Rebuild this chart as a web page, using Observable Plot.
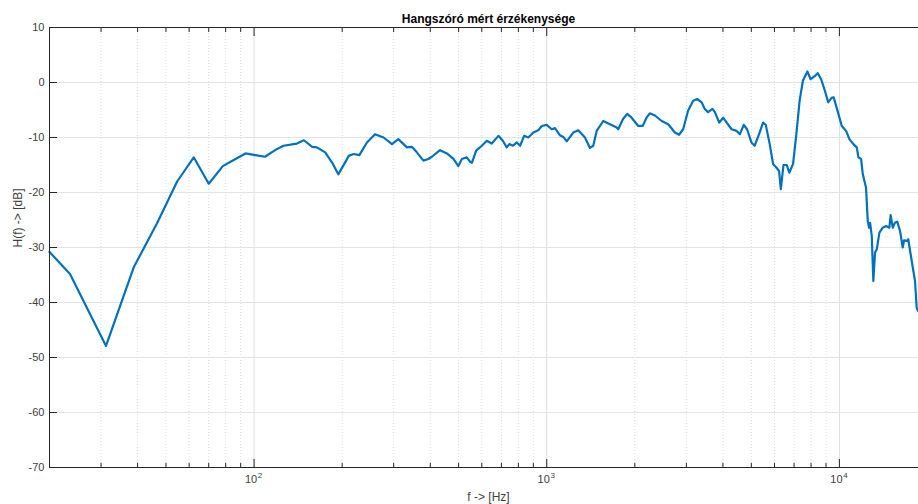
<!DOCTYPE html>
<html>
<head>
<meta charset="utf-8">
<script src="https://cdn.jsdelivr.net/npm/d3@7"></script>
<script src="https://cdn.jsdelivr.net/npm/@observablehq/plot@0.6"></script>
<style>
  html, body { margin: 0; padding: 0; background: #fff; overflow: hidden; }
  #chart svg { display: block; max-width: none; }
</style>
</head>
<body>
<div id="chart"></div>
<script>
// Measured loudspeaker sensitivity, frequency in Hz and level in dB
const freqHz = [20, 23.5, 31.2, 38.8, 46.7, 54.6, 62.2, 70, 78.2, 85.2, 93.4, 101, 109, 118, 126, 140, 148, 158, 164, 175,
  185, 194, 211, 219, 229, 243, 259, 277, 296, 311, 333, 346, 360, 379, 394, 405, 432, 456, 480, 499,
  513, 533, 547, 555, 574, 600, 624, 649, 684, 708, 730, 745, 766, 790, 811, 837, 865, 900, 935, 962,
  1000, 1040, 1067, 1110, 1139, 1170, 1232, 1282, 1351, 1405, 1442, 1481, 1560, 1645, 1734, 1755, 1825, 1884, 1950, 2054,
  2127, 2193, 2250, 2343, 2470, 2601, 2740, 2832, 2925, 3042, 3165, 3266, 3383, 3466, 3560, 3682, 3755, 3884, 4007, 4120,
  4282, 4454, 4568, 4714, 4837, 5005, 5134, 5315, 5485, 5604, 5780, 5933, 6099, 6222, 6307, 6441, 6608, 6741, 6945, 7128,
  7313, 7503, 7775, 7976, 8214, 8443, 8660, 8921, 9153, 9400, 9563, 9813, 10190, 10540, 10818, 11160, 11465, 11610, 11860, 12020,
  12330, 12500, 12630, 12730, 12900, 13060, 13240, 13420, 13700, 14060, 14430, 14810, 14970, 15210, 15480, 15770, 16110, 16460, 16630, 16980,
  17190, 17670, 18130, 18370, 18600];
const levelDb = [-30.8, -34.8, -47.9, -33.6, -25.5, -18.0, -13.6, -18.4, -15.2, -14.1, -12.9, -13.2, -13.5, -12.3, -11.5, -11.1, -10.5, -11.7, -11.8, -12.7,
  -14.6, -16.7, -13.3, -13.0, -13.2, -10.9, -9.4, -10.0, -11.2, -10.3, -11.8, -11.7, -12.7, -14.2, -13.9, -13.5, -12.3, -12.9, -13.9, -15.2,
  -13.9, -13.6, -14.4, -14.6, -12.4, -11.5, -10.6, -11.1, -9.7, -10.6, -11.8, -11.2, -11.5, -10.9, -11.5, -9.7, -10.0, -9.1, -8.7, -7.9,
  -7.7, -8.5, -8.3, -9.6, -9.9, -10.7, -9.1, -8.7, -10.0, -11.9, -11.5, -8.8, -7.0, -7.6, -8.2, -8.5, -6.6, -5.7, -6.4, -7.9,
  -7.9, -6.4, -5.6, -6.0, -7.0, -7.6, -9.1, -9.5, -8.5, -5.1, -3.3, -3.0, -3.6, -4.8, -5.4, -4.8, -5.4, -7.3, -6.4, -7.3,
  -8.5, -8.8, -9.4, -7.7, -8.5, -10.9, -11.5, -9.4, -7.3, -7.7, -11.2, -14.8, -15.5, -16.1, -19.4, -15.0, -15.0, -16.4, -14.8, -9.4,
  -3.3, 0.3, 2.0, 0.6, 1.1, 1.7, 0.6, -1.5, -3.6, -2.8, -2.7, -4.8, -7.9, -8.8, -10.3, -11.2, -11.8, -13.6, -13.9, -16.7,
  -19.1, -25.2, -26.4, -25.5, -27.9, -36.1, -30.9, -30.3, -27.3, -26.4, -26.1, -26.4, -24.1, -26.4, -25.5, -25.3, -27.0, -30.0, -28.7, -28.8,
  -28.5, -32.5, -36.1, -41.0, -41.6];

// Axis setup
const xDomain = [20, 20000];
const yDomain = [-70, 10];
const decades = [100, 1000, 10000];
const decadeExponents = ["2", "3", "4"];
const minorTicks = [30, 40, 50, 60, 70, 80, 90, 200, 300, 400, 500, 600, 700, 800, 900,
  2000, 3000, 4000, 5000, 6000, 7000, 8000, 9000];
const yTicks = [-70, -60, -50, -40, -30, -20, -10, 0, 10];

const titleText = "Hangszóró mért érzékenysége";
const xLabel = "f -> [Hz]";
const yLabel = "H(f) -> [dB]";

const rows = freqHz.map((f, i) => ({f, db: levelDb[i]}));

const axisColor = "#262626";
const textColor = "#404040";
const noText = () => "";

const chart = Plot.plot({
  width: 918,
  height: 504,
  marginLeft: 49,
  marginRight: -9,
  marginTop: 27,
  marginBottom: 37,
  style: {fontFamily: "'Liberation Sans', Arial, sans-serif", fontSize: "11px", background: "#fff", color: axisColor, overflow: "hidden"},
  x: {type: "log", domain: xDomain},
  y: {domain: yDomain},
  marks: [
    // grid
    Plot.ruleX(minorTicks, {stroke: "#dcdcdc", strokeDasharray: "1,2"}),
    Plot.ruleX(decades, {stroke: "#dedede"}),
    Plot.ruleY(yTicks, {stroke: "#e3e3e3"}),
    // response curve
    Plot.line(rows, {x: "f", y: "db", stroke: "#0072BD", strokeWidth: 2.2, strokeLinejoin: "round"}),
    // box
    Plot.ruleY([yDomain[0], yDomain[1]], {stroke: axisColor}),
    Plot.ruleX([xDomain[0], xDomain[1]], {stroke: axisColor}),
    // inward tick marks
    Plot.axisX({anchor: "bottom", ticks: decades, tickSize: -8, tickFormat: noText, stroke: axisColor, label: null}),
    Plot.axisX({anchor: "bottom", ticks: minorTicks, tickSize: -4, tickFormat: noText, stroke: axisColor, label: null}),
    Plot.axisX({anchor: "top", ticks: decades, tickSize: -8, tickFormat: noText, stroke: axisColor, label: null}),
    Plot.axisX({anchor: "top", ticks: minorTicks, tickSize: -4, tickFormat: noText, stroke: axisColor, label: null}),
    Plot.axisY({anchor: "left", ticks: yTicks, tickSize: -8, tickFormat: noText, stroke: axisColor, label: null}),
    // tick labels: base "10" plus a raised exponent
    Plot.text(decades, {x: (d) => d, text: () => "10", frameAnchor: "bottom", dx: -3, dy: 15, fill: textColor, fontSize: 11}),
    Plot.text(decades, {x: (d) => d, text: (d, i) => decadeExponents[i], frameAnchor: "bottom", dx: 6, dy: 10, fill: textColor, fontSize: 8}),
    Plot.axisY({anchor: "left", ticks: yTicks, tickSize: 0, tickPadding: 5,
      tickFormat: (d) => String(d), fill: textColor, fontSize: 11, label: null}),
    // title and axis labels
    Plot.text([titleText], {frameAnchor: "top", dy: -13, fontWeight: "bold", fontSize: 12, fill: "#000"}),
    Plot.text([xLabel], {frameAnchor: "bottom", dy: 33, fontSize: 12, fill: textColor}),
    Plot.text([yLabel], {frameAnchor: "left", dx: -31, rotate: -90, fontSize: 12, fill: textColor})
  ]
});

document.getElementById("chart").appendChild(chart);
</script>
</body>
</html>
